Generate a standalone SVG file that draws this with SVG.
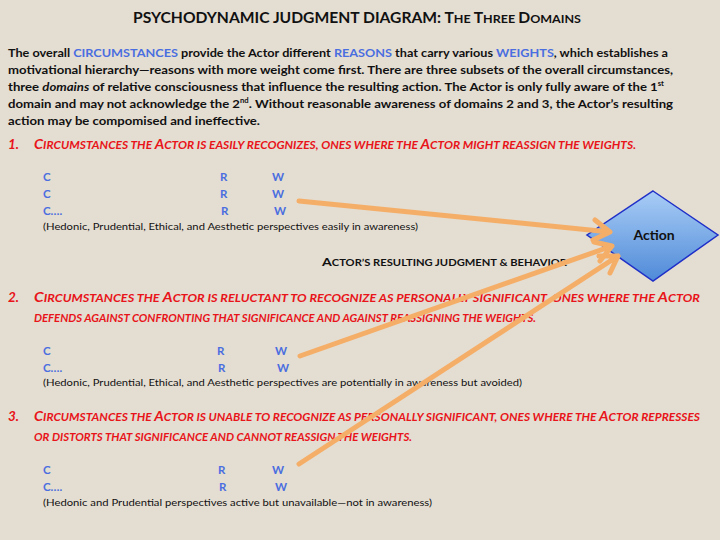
<svg xmlns="http://www.w3.org/2000/svg" width="720" height="540" viewBox="0 0 720 540">
<defs>
<style>
text{font-family:Lato,"Open Sans",sans-serif;font-weight:bold}
.p{font-size:12px;fill:#111}
.b{fill:#4a6ee0}
.r{fill:#e8141a;font-style:italic;font-size:11px}
.rb{font-size:13.5px}
.c{font-size:11.5px;fill:#4a6ee0}
.n{font-size:9.5px;fill:#111;font-weight:normal}
.arr{stroke:#f5ae68;stroke-width:5;fill:none;stroke-linecap:round;stroke-linejoin:round}
</style>
<linearGradient id="g" x1="0" y1="0" x2="0" y2="1"><stop offset="0" stop-color="#a9cdf6"/><stop offset="1" stop-color="#4f8ad8"/></linearGradient>
</defs>
<rect width="720" height="540" fill="#e4ddd1"/>
<text x="133" y="23" textLength="448" lengthAdjust="spacingAndGlyphs" style="font-size:15px;fill:#111">PSYCHODYNAMIC JUDGMENT DIAGRAM:  T<tspan font-size="12">HE </tspan>T<tspan font-size="12">HREE </tspan>D<tspan font-size="12">OMAINS</tspan></text>
<text class="p" x="8" y="57" textLength="660" lengthAdjust="spacingAndGlyphs">The overall <tspan class="b">CIRCUMSTANCES</tspan> provide the Actor different <tspan class="b">REASONS</tspan> that carry various <tspan class="b">WEIGHTS</tspan>, which establishes a</text>
<text class="p" x="8" y="74" textLength="665" lengthAdjust="spacingAndGlyphs">motivational hierarchy—reasons with more weight come first. There are three subsets of the overall circumstances,</text>
<text class="p" x="8" y="91" textLength="656" lengthAdjust="spacingAndGlyphs">three <tspan font-style="italic">domains</tspan> of relative consciousness that influence the resulting action. The Actor is only fully aware of the 1<tspan font-size="7" dy="-5">st</tspan></text>
<text class="p" x="8" y="108" textLength="665" lengthAdjust="spacingAndGlyphs">domain and may not acknowledge the 2<tspan font-size="7" dy="-5">nd</tspan><tspan dy="5">. Without reasonable awareness of domains 2 and 3, the Actor’s resulting</tspan></text>
<text class="p" x="8" y="125" textLength="252" lengthAdjust="spacingAndGlyphs">action may be compomised and ineffective.</text>

<g id="domain1">
<text class="r" x="8" y="149"><tspan class="rb">1.</tspan></text>
<text class="r" x="34" y="149" textLength="602" lengthAdjust="spacingAndGlyphs"><tspan class="rb">C</tspan>IRCUMSTANCES THE <tspan class="rb">A</tspan>CTOR IS EASILY RECOGNIZES, ONES WHERE THE <tspan class="rb">A</tspan>CTOR MIGHT REASSIGN THE WEIGHTS.</text>
<text class="c" x="43" y="181">C</text><text class="c" x="220" y="181">R</text><text class="c" x="272" y="181">W</text>
<text class="c" x="43" y="198">C</text><text class="c" x="220" y="198">R</text><text class="c" x="272" y="198">W</text>
<text class="c" x="43" y="215">C….</text><text class="c" x="221" y="215">R</text><text class="c" x="274" y="215">W</text>
<text class="n" x="43" y="230" textLength="375" lengthAdjust="spacingAndGlyphs">(Hedonic, Prudential, Ethical, and Aesthetic perspectives easily in awareness)</text>
</g>
<g id="judgment">
<text x="322" y="266" textLength="245" lengthAdjust="spacingAndGlyphs" style="font-size:12px;fill:#111">A<tspan font-size="9.5">CTOR’S RESULTING JUDGMENT &amp; BEHAVIOR</tspan></text>
</g>
<g id="domain2">
<text class="r" x="8" y="302"><tspan class="rb">2.</tspan></text>
<text class="r" x="34" y="302" textLength="666" lengthAdjust="spacingAndGlyphs"><tspan class="rb">C</tspan>IRCUMSTANCES THE <tspan class="rb">A</tspan>CTOR IS RELUCTANT TO RECOGNIZE AS PERSONALLY SIGNIFICANT, ONES WHERE THE <tspan class="rb">A</tspan>CTOR</text>
<text class="r" x="34" y="322" textLength="502" lengthAdjust="spacingAndGlyphs">DEFENDS AGAINST CONFRONTING THAT SIGNIFICANCE AND AGAINST REASSIGNING THE WEIGHTS.</text>
<text class="c" x="43" y="355">C</text><text class="c" x="217" y="355">R</text><text class="c" x="275" y="355">W</text>
<text class="c" x="43" y="372">C….</text><text class="c" x="218" y="372">R</text><text class="c" x="277" y="372">W</text>
<text class="n" x="43" y="386" textLength="479" lengthAdjust="spacingAndGlyphs">(Hedonic, Prudential, Ethical, and Aesthetic perspectives are potentially in awareness but avoided)</text>
</g>
<g id="domain3">
<text class="r" x="8" y="421"><tspan class="rb">3.</tspan></text>
<text class="r" x="34" y="421" textLength="666" lengthAdjust="spacingAndGlyphs"><tspan class="rb">C</tspan>IRCUMSTANCES THE <tspan class="rb">A</tspan>CTOR IS UNABLE TO RECOGNIZE AS PERSONALLY SIGNIFICANT, ONES WHERE THE <tspan class="rb">A</tspan>CTOR REPRESSES</text>
<text class="r" x="34" y="441" textLength="378" lengthAdjust="spacingAndGlyphs">OR DISTORTS THAT SIGNIFICANCE AND CANNOT REASSIGN THE WEIGHTS.</text>
<text class="c" x="43" y="474">C</text><text class="c" x="218" y="474">R</text><text class="c" x="272" y="474">W</text>
<text class="c" x="43" y="491">C….</text><text class="c" x="219" y="491">R</text><text class="c" x="275" y="491">W</text>
<text class="n" x="43" y="506" textLength="389" lengthAdjust="spacingAndGlyphs">(Hedonic and Prudential perspectives active but unavailable—not in awareness)</text>
</g>
<g id="action">
<polygon points="653,191 718,235 653,281 587,235" fill="url(#g)" stroke="#1f2fc8" stroke-width="1.5"/>
<text x="654" y="240" text-anchor="middle" style="font-size:14px;fill:#111">Action</text>
</g>
<g id="connectors">
<path class="arr" d="M299,201 L610,232 M595,220 L610,232 L593,240"/>
<path class="arr" d="M300,356 L612,246 M594,242 L612,246 L600,261"/>
<path class="arr" d="M299,464 L618,256 M599,256 L618,256 L610,273"/>
</g>
</svg>
